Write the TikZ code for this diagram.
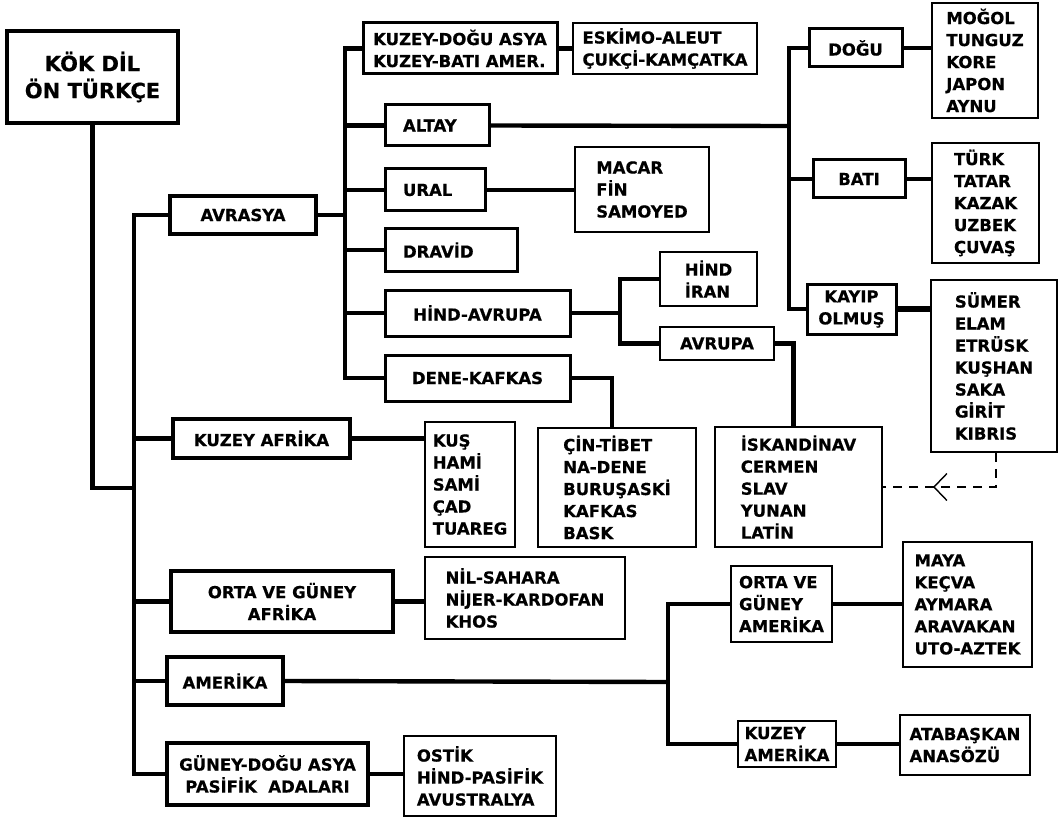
\documentclass[tikz,border=0pt]{standalone}
\usepackage{fontspec}
\setmainfont{DejaVu Sans}[BoldFeatures={FakeBold=0.5}]
\usetikzlibrary{arrows.meta,decorations.markings}
\begin{document}
\begin{tikzpicture}[x=1pt,y=-1pt,
  every node/.style={inner sep=0pt, font=\bfseries\fontsize{16.5}{22}\selectfont, align=left},
  heavybox/.style={draw, line width=4.3pt},
  midbox/.style={draw, line width=3pt},
  thinbox/.style={draw, line width=1.9pt},
  padded/.style={inner xsep=18pt, text width=#1},
  link/.style={line width=4.4pt},
  dashlink/.style={line width=1.6pt, dash pattern=on 9pt off 7pt,
    postaction={decorate},
    decoration={markings, mark=at position 0.66 with {\arrow{Straight Barb[length=13pt,width=27pt,line width=1.4pt]}}}}
]
\fill[white] (0,0) rectangle (1059,818);
\useasboundingbox (0,0) rectangle (1059,818);

% boxes
\node[heavybox, minimum width=171, minimum height=92, align=center,
      font=\bfseries\fontsize{21}{27}\selectfont] (kok) at (92.5,77) {KÖK DİL\\ÖN TÜRKÇE};
\node[heavybox, minimum width=146, minimum height=38, align=center] (avrasya) at (243,215) {AVRASYA};
\node[midbox, minimum width=194, minimum height=51] (kda) at (460,48.5) {KUZEY-DOĞU ASYA\\KUZEY-BATI AMER.};
\node[thinbox, minimum width=184, minimum height=51] (eskimo) at (665,48.5) {ESKİMO-ALEUT\\ÇUKÇİ-KAMÇATKA};
\node[midbox, padded=68pt, minimum height=41] (altay) at (437,125.5) {ALTAY};
\node[midbox, padded=64pt, minimum height=42] (ural) at (435,190) {URAL};
\node[thinbox, minimum width=134, minimum height=85] (macar) at (642,189.5) {MACAR\\FİN\\SAMOYED};
\node[midbox, padded=96pt, minimum height=42] (dravid) at (451,250) {DRAVİD};
\node[midbox, minimum width=185, minimum height=46, align=center] (hindavrupa) at (477.5,313) {HİND-AVRUPA};
\node[midbox, minimum width=185, minimum height=46, align=center] (denekafkas) at (477.5,378) {DENE-KAFKAS};
\node[thinbox, minimum width=97, minimum height=54] (hindiran) at (708.5,279) {HİND\\İRAN};
\node[thinbox, minimum width=114, minimum height=33, align=center] (avrupa) at (717,343.5) {AVRUPA};
\node[midbox, minimum width=89, minimum height=50, align=center] (kayip) at (851.5,309) {KAYIP\\OLMUŞ};
\node[midbox, minimum width=93, minimum height=38, align=center] (dogu) at (855.5,48) {DOĞU};
\node[midbox, minimum width=92, minimum height=38, align=center] (bati) at (859,179) {BATI};
\node[thinbox, minimum width=106, minimum height=115] (mogol) at (985,60.5) {MOĞOL\\TUNGUZ\\KORE\\JAPON\\AYNU};
\node[thinbox, minimum width=107, minimum height=120] (turk) at (985.5,203) {TÜRK\\TATAR\\KAZAK\\UZBEK\\ÇUVAŞ};
\node[thinbox, minimum width=126, minimum height=172] (sumer) at (994,366) {SÜMER\\ELAM\\ETRÜSK\\KUŞHAN\\SAKA\\GİRİT\\KIBRIS};
\node[thinbox, minimum width=167, minimum height=120] (iskandinav) at (798.5,487) {İSKANDİNAV\\CERMEN\\SLAV\\YUNAN\\LATİN};
\node[thinbox, minimum width=158, minimum height=119] (cin) at (617,487.5) {ÇİN-TİBET\\NA-DENE\\BURUŞASKİ\\KAFKAS\\BASK};
\node[thinbox, minimum width=90, minimum height=125] (kus) at (470,484.5) {KUŞ\\HAMİ\\SAMİ\\ÇAD\\TUAREG};
\node[heavybox, minimum width=177, minimum height=39, align=center] (kafrika) at (261.5,438.5) {KUZEY AFRİKA};
\node[heavybox, minimum width=222, minimum height=61, align=center] (ogafrika) at (282,601.5) {ORTA VE GÜNEY\\AFRİKA};
\node[thinbox, minimum width=200, minimum height=82] (nil) at (525,598) {NİL-SAHARA\\NİJER-KARDOFAN\\KHOS};
\node[heavybox, minimum width=116, minimum height=48, align=center] (amerika) at (225,681) {AMERİKA};
\node[heavybox, minimum width=201, minimum height=62, align=center] (gda) at (267.5,774) {GÜNEY-DOĞU ASYA\\PASİFİK~ ADALARI};
\node[thinbox, minimum width=152, minimum height=80] (ostik) at (480,776) {OSTİK\\HİND-PASİFİK\\AVUSTRALYA};
\node[thinbox, minimum width=101, minimum height=76] (ogamerika) at (781.5,604) {ORTA VE\\GÜNEY\\AMERİKA};
\node[thinbox, minimum width=129, minimum height=125] (maya) at (967.5,604.5) {MAYA\\KEÇVA\\AYMARA\\ARAVAKAN\\UTO-AZTEK};
\node[thinbox, minimum width=98, minimum height=46] (kamerika) at (787,744) {KUZEY\\AMERİKA};
\node[thinbox, minimum width=130, minimum height=60] (atabaskan) at (965,745) {ATABAŞKAN\\ANASÖZÜ};

% buses
\coordinate (b1) at (134,488);
\coordinate (b2) at (345,215);
\coordinate (b3) at (789,126);
\coordinate (b4) at (620,313);
\coordinate (b5) at (668,682);

\draw[link] (kok.south) |- (b1);
\draw[link] (avrasya.west) -| (b1) |- (gda.west);
\foreach \n in {kafrika,ogafrika,amerika} \draw[link] (\n.west) -- (\n.west -| b1);

\draw[link] (avrasya.east) -- (b2);
\draw[link] (kda.west) -| (b2) |- (denekafkas.west);
\foreach \n in {altay,ural,dravid,hindavrupa} \draw[link] (\n.west) -- (\n.west -| b2);

\draw[link] (altay.east) -- (b3);
\draw[link] (dogu.west) -| (b3) |- (kayip.west);
\draw[link] (bati.west) -- (bati.west -| b3);

\draw[link] (hindavrupa.east) -- (b4);
\draw[link] (hindiran.west) -| (b4) |- (avrupa.west);

\draw[link] (amerika.east) -- (b5);
\draw[link] (ogamerika.west) -| (b5) |- (kamerika.west);

\draw[link] (denekafkas.east) -| ([xshift=-5pt]cin.north);
\draw[link] (avrupa.east) -| ([xshift=-5pt]iskandinav.north);

% leaf links
\draw[link] (kda.east) -- (eskimo.west);
\draw[link] (ural.east) -- (ural.east -| macar.west);
\draw[link] (dogu.east) -- (dogu.east -| mogol.west);
\draw[link] (bati.east) -- (bati.east -| turk.west);
\draw[link, line width=6pt] (kayip.east) -- (kayip.east -| sumer.west);
\draw[link] (kafrika.east) -- (kafrika.east -| kus.west);
\draw[link] (ogafrika.east) -- (ogafrika.east -| nil.west);
\draw[link] (ogamerika.east) -- (ogamerika.east -| maya.west);
\draw[link] (kamerika.east) -- (kamerika.east -| atabaskan.west);
\draw[link] (gda.east) -- (gda.east -| ostik.west);

% dashed link
\draw[dashlink] ([xshift=2pt]sumer.south) |- (iskandinav.east);
\end{tikzpicture}
\end{document}
